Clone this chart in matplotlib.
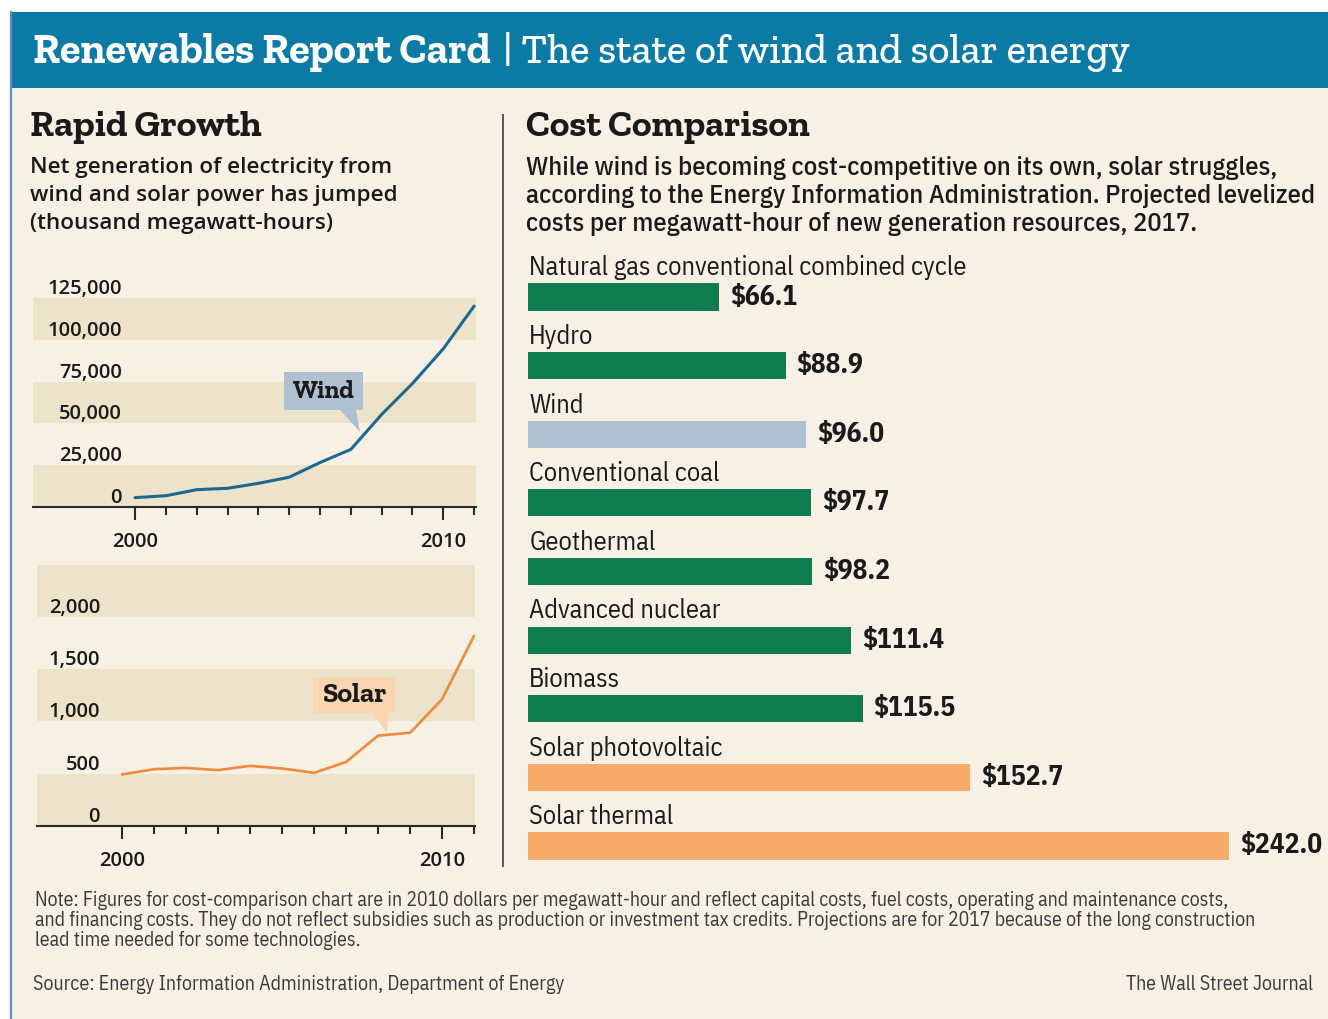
import matplotlib
matplotlib.use("Agg")
import logging
logging.getLogger("matplotlib.font_manager").setLevel(logging.ERROR)
import matplotlib.pyplot as plt
from matplotlib.patches import Rectangle, Polygon
from matplotlib.lines import Line2D
import matplotlib.transforms as mtransforms

# ---------------- data ----------------
years = [2000, 2001, 2002, 2003, 2004, 2005, 2006, 2007, 2008, 2009, 2010, 2011]
wind_gen = [5593, 6737, 10354, 11187, 14144, 17811, 26589, 34450, 55363, 73886, 94652, 120177]
solar_gen = [493, 543, 555, 534, 575, 550, 508, 612, 864, 891, 1212, 1818]
wind_ticks = [0, 25000, 50000, 75000, 100000, 125000]
solar_ticks = [0, 500, 1000, 1500, 2000]
year_labels = [2000, 2010]

cost_categories = ["Natural gas conventional combined cycle", "Hydro", "Wind",
                   "Conventional coal", "Geothermal", "Advanced nuclear", "Biomass",
                   "Solar photovoltaic", "Solar thermal"]
cost_values = [66.1, 88.9, 96.0, 97.7, 98.2, 111.4, 115.5, 152.7, 242.0]
cost_groups = ["other", "other", "wind", "other", "other", "other", "other", "solar", "solar"]

# ---------------- style ----------------
W, H = 1328, 1019
BG = "#f6f0e5"
BAND = "#ede2ca"
HEADER = "#0b7ba5"
GREEN = "#0e7b51"
WINDC = "#afc1d0"
SOLARC = "#f8aa68"
WIND_LINE = "#1d6790"
SOLAR_LINE = "#f08a3a"
TXT = "#1a1a1a"

SLAB = ["Zilla Slab", "Roboto Slab", "Bitter", "Arvo", "DejaVu Serif"]
SANS = ["Open Sans", "DejaVu Sans"]
COND = ["IBM Plex Sans Condensed", "Roboto Condensed", "DejaVu Sans"]

fig = plt.figure(figsize=(W / 100, H / 100), dpi=100, facecolor="white")
renderer = fig.canvas.get_renderer()


def fx(x):
    return x / W


def fy(y):
    return 1 - y / H


def rect(x0, y0, x1, y1, color, z=0):
    fig.add_artist(Rectangle((fx(x0), fy(y1)), (x1 - x0) / W, (y1 - y0) / H,
                             transform=fig.transFigure, color=color, lw=0, zorder=z))


def fit(t, width):
    bb = t.get_window_extent(renderer)
    t.set_fontsize(t.get_fontsize() * width / bb.width)
    return t


def ftext(x, y, s, width=None, size=14, **kw):
    t = fig.text(fx(x), fy(y), s, fontsize=size, **kw)
    if width:
        fit(t, width)
    return t


# background / frame
rect(11, 12, W, H, BG, z=-5)
rect(10, 12, W, 88, HEADER, z=1)
fig.add_artist(Line2D([fx(10.5), fx(10.5)], [fy(12), fy(H)], transform=fig.transFigure,
                      color="#5a8fd0", lw=1.6, zorder=2))

# header title
t1 = ftext(33, 52, "Renewables Report Card", width=459, family=SLAB, weight="bold",
           color="white", va="center", zorder=3)
x_end = t1.get_window_extent(renderer).x1
ftext(x_end + 12, 52, "| The state of wind and solar energy", width=627, family=SLAB,
      weight="medium", color="white", va="center", zorder=3)

# section titles
ftext(30, 128, "Rapid Growth", width=232, family=SLAB, weight="bold", color=TXT, va="center")
ftext(526, 128, "Cost Comparison", width=284, family=SLAB, weight="bold", color=TXT, va="center")

# left description
l1 = ftext(30, 168, "Net generation of electricity from", width=366, family=SANS,
           weight="semibold", color=TXT, va="center")
for yy, s in [(196, "wind and solar power has jumped"), (224, "(thousand megawatt-hours)")]:
    ftext(30, yy, s, size=l1.get_fontsize(), family=SANS, weight="semibold", color=TXT, va="center")

# right description
r1 = ftext(526, 168, "While wind is becoming cost-competitive on its own, solar struggles,",
           width=749, family=COND, weight="medium", color=TXT, va="center")
for yy, s in [(196, "according to the Energy Information Administration. Projected levelized"),
              (224, "costs per megawatt-hour of new generation resources, 2017.")]:
    ftext(526, yy, s, size=r1.get_fontsize(), family=COND, weight="medium", color=TXT, va="center")

# divider
fig.add_artist(Line2D([fx(503), fx(503)], [fy(115), fy(866)], transform=fig.transFigure,
                      color="#555555", lw=1.4))

# ---------------- line charts ----------------
def line_panel(left, right, top, bottom, xl, yl, bands, ticks, lab_x, data, color, lw):
    ax = fig.add_axes([fx(left), fy(bottom), (right - left) / W, (bottom - top) / H])
    ax.set_facecolor("none")
    ax.set_xlim(*xl)
    ax.set_ylim(*yl)
    for b0, b1 in bands:
        ax.axhspan(b0, b1, color=BAND, lw=0, zorder=0)
    ax.plot(years, data, color=color, lw=lw, zorder=3, solid_capstyle="round",
            solid_joinstyle="round")
    for s in ["top", "left", "right"]:
        ax.spines[s].set_visible(False)
    ax.spines["bottom"].set_color("#2a2a2a")
    ax.spines["bottom"].set_linewidth(1.5)
    ax.set_yticks([])
    ax.set_xticks(year_labels)
    ax.set_xticklabels([str(y) for y in year_labels])
    ax.set_xticks([y for y in years if y not in year_labels], minor=True)
    ax.tick_params(axis="x", which="major", direction="out", length=9, width=1.5,
                   color="#2a2a2a", pad=9, labelsize=14.5, labelcolor=TXT)
    ax.tick_params(axis="x", which="minor", direction="out", length=6, width=1.5,
                   color="#2a2a2a")
    for lab in ax.get_xticklabels():
        lab.set_family(SANS)
        lab.set_weight("semibold")
    tr = mtransforms.offset_copy(ax.get_yaxis_transform(), fig=fig, x=0, y=4, units="dots")
    for v in ticks:
        ax.text(lab_x, v, f"{v:,}", transform=tr, ha="right", va="baseline",
                family=SANS, weight="semibold", fontsize=14.5, color=TXT)
    return ax


wind_ax = line_panel(33, 476, 275, 507, (1996.69, 2011.06), (0, 138750),
                     [(0, 25000), (50000, 75000), (100000, 125000)], wind_ticks,
                     (122 - 33) / (476 - 33), wind_gen, WIND_LINE, 2.2)
solar_ax = line_panel(37, 475, 565, 826, (1997.34, 2011.03), (0, 2495),
                      [(0, 500), (1000, 1500), (2000, 2495)], solar_ticks,
                      (100 - 37) / (475 - 37), solar_gen, SOLAR_LINE, 1.9)


# callouts
def callout(x0, y0, x1, y1, px0, px1, tipx, tipy, color, label, width):
    pts = [(x0, y0), (x1, y0), (x1, y1), (px1, y1), (tipx, tipy), (px0, y1), (x0, y1)]
    fig.add_artist(Polygon([(fx(a), fy(b)) for a, b in pts], closed=True,
                           transform=fig.transFigure, color=color, lw=0, zorder=4))
    ftext((x0 + x1) / 2, (y0 + y1) / 2 + 1, label, width=width, family=SLAB, weight="bold",
          color=TXT, ha="center", va="center", zorder=5)


callout(284, 372, 363, 410, 340, 356, 360, 432, WINDC, "Wind", 62)
callout(313, 677, 395, 713, 372, 388, 387, 733, "#f9d5b2", "Solar", 65)

# ---------------- bar chart ----------------
bx = fig.add_axes([fx(528), fy(880.3), (W - 528) / W, (880.3 - 262.7) / H])
bx.set_facecolor("none")
bx.set_xlim(0, (W - 528) / 2.897)
bx.set_ylim(len(cost_values) - 0.5, -0.5)
bx.axis("off")
cmap = {"other": GREEN, "wind": WINDC, "solar": SOLARC}
rows = list(range(len(cost_values)))
bx.barh(rows, cost_values, height=0.395, color=[cmap[g] for g in cost_groups], lw=0)
lab0 = None
for i, name in enumerate(cost_categories):
    t = bx.text(0.4, i - 0.425, name, ha="left", va="center", family=COND,
                weight="normal", fontsize=16, color=TXT)
    if i == 0:
        fit(t, 438)
        lab0 = t.get_fontsize()
    else:
        t.set_fontsize(lab0)
vals = []
for i, val in enumerate(cost_values):
    t = bx.annotate(f"${val:.1f}", xy=(val, i), xytext=(8, 0), textcoords="offset points",
                    ha="left", va="center", family=COND, weight="bold", fontsize=17,
                    color=TXT)
    vals.append(t)
fit(vals[-1], 82)
for t in vals[:-1]:
    t.set_fontsize(vals[-1].get_fontsize())

# ---------------- notes ----------------
n1 = ftext(35, 900, "Note: Figures for cost-comparison chart are in 2010 dollars per megawatt-hour "
           "and reflect capital costs, fuel costs, operating and maintenance costs,",
           width=1192, family=COND, color="#3a3a3a", va="center")
for yy, s in [(920, "and financing costs. They do not reflect subsidies such as production or "
               "investment tax credits. Projections are for 2017 because of the long construction"),
              (941, "lead time needed for some technologies.")]:
    ftext(35, yy, s, size=n1.get_fontsize(), family=COND, color="#3a3a3a", va="center")
ftext(33, 984, "Source: Energy Information Administration, Department of Energy", width=530,
      family=COND, color="#3a3a3a", va="center")
ftext(1313, 984, "The Wall Street Journal", size=n1.get_fontsize(), family=COND,
      color="#3a3a3a", va="center", ha="right")

fig.savefig("out.png", dpi=100, facecolor="white")
